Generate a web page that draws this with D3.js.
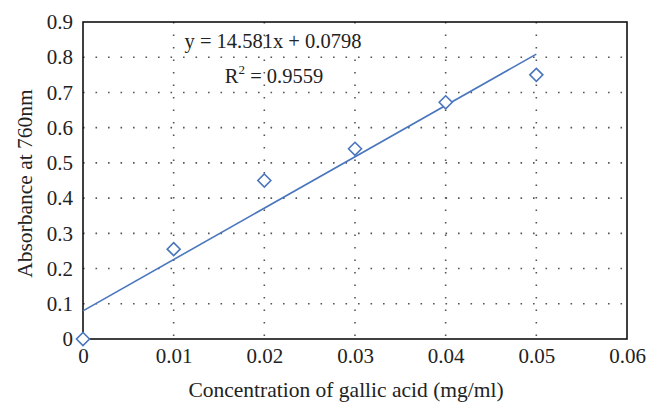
<!DOCTYPE html>
<html>
<head>
<meta charset="utf-8">
<script src="https://cdn.jsdelivr.net/npm/d3@7"></script>
<style>
  body { margin: 0; background: #fff; }
  text { font-family: "Liberation Serif", "Times New Roman", serif; fill: #222; }
</style>
</head>
<body>
<div id="chart"></div>
<script>
// measured points (concentration mg/ml vs absorbance)
var concentration = [0, 0.01, 0.02, 0.03, 0.04, 0.05];
var absorbance = [0, 0.255, 0.45, 0.54, 0.672, 0.75];
var xTicks = [0, 0.01, 0.02, 0.03, 0.04, 0.05, 0.06];
var yTicks = [0, 0.1, 0.2, 0.3, 0.4, 0.5, 0.6, 0.7, 0.8, 0.9];
var slope = 14.581, intercept = 0.0798, r2 = 0.9559;

var W = 658, H = 416;
var margins = {left: 83, right: 31, top: 22, bottom: 77};
var w = W - margins.left - margins.right,
  h = H - margins.top - margins.bottom;

var svg = d3.select('#chart').append('svg')
  .attr('width', W).attr('height', H)
  .append('g')
  .attr('transform', 'translate(' + margins.left + ',' + margins.top + ')');

var xScale = d3.scaleLinear().domain([0, 0.06]).range([0, w]);
var yScale = d3.scaleLinear().domain([0, 0.9]).range([h, 0]);

// dotted grid
svg.append('g').selectAll('line.hg')
  .data(yTicks.slice(1, -1))
  .enter().append('line')
  .attr('x1', 0).attr('x2', w)
  .attr('y1', function(d) {return yScale(d);})
  .attr('y2', function(d) {return yScale(d);})
  .attr('stroke', '#555').attr('stroke-width', 1.6)
  .attr('stroke-dasharray', '1.6,10.9');
svg.append('g').selectAll('line.vg')
  .data(xTicks.slice(1, -1))
  .enter().append('line')
  .attr('y1', 0).attr('y2', h)
  .attr('x1', function(d) {return xScale(d);})
  .attr('x2', function(d) {return xScale(d);})
  .attr('stroke', '#555').attr('stroke-width', 1.6)
  .attr('stroke-dasharray', '1.6,10.9');

// frame
svg.append('rect')
  .attr('x', 0).attr('y', 0).attr('width', w).attr('height', h)
  .attr('fill', 'none').attr('stroke', '#111').attr('stroke-width', 1.6);

// axes (labels only)
var xAxis = d3.axisBottom(xScale).tickValues(xTicks).tickSize(0).tickPadding(9)
  .tickFormat(function(d) {return d === 0 ? '0' : d3.format('.2f')(d);});
var yAxis = d3.axisLeft(yScale).tickValues(yTicks).tickSize(0).tickPadding(10)
  .tickFormat(function(d) {return d === 0 ? '0' : d3.format('.1f')(d);});

svg.append('g').attr('transform', 'translate(0,' + h + ')').call(xAxis)
  .call(function(g) {
    g.select('.domain').remove();
    g.selectAll('text').attr('font-size', 21).attr('font-family', 'Liberation Serif').attr('fill', '#222');
  });
svg.append('g').call(yAxis)
  .call(function(g) {
    g.select('.domain').remove();
    g.selectAll('text').attr('font-size', 21).attr('font-family', 'Liberation Serif').attr('fill', '#222');
  });

// trend line
var xs = [0, 0.05];
svg.append('path')
  .datum(xs)
  .attr('d', d3.line()
    .x(function(d) {return xScale(d);})
    .y(function(d) {return yScale(slope * d + intercept);}))
  .attr('fill', 'none').attr('stroke', '#4a76bd').attr('stroke-width', 1.6);

// diamond markers
var pts = concentration.map(function(c, i) {return {x: c, y: absorbance[i]};});
var r = 6.5;
svg.append('g').selectAll('path.pt')
  .data(pts)
  .enter().append('path')
  .attr('d', function(d) {
    var cx = xScale(d.x), cy = yScale(d.y);
    return 'M' + cx + ',' + (cy - r) + 'L' + (cx + r) + ',' + cy +
      'L' + cx + ',' + (cy + r) + 'L' + (cx - r) + ',' + cy + 'Z';
  })
  .attr('fill', '#fff').attr('stroke', '#4a76bd').attr('stroke-width', 1.6);

// equation
svg.append('text')
  .attr('x', 190).attr('y', 26)
  .attr('text-anchor', 'middle').attr('font-size', 20.5)
  .text('y = ' + slope + 'x + ' + intercept);
var r2t = svg.append('text')
  .attr('x', 191).attr('y', 61)
  .attr('text-anchor', 'middle').attr('font-size', 20.5);
r2t.append('tspan').text('R');
r2t.append('tspan').attr('dy', -9).attr('font-size', 13).text('2');
r2t.append('tspan').attr('dy', 9).text(' = ' + r2);

// axis titles
svg.append('text')
  .attr('x', w / 2 - 9).attr('y', h + 58)
  .attr('text-anchor', 'middle').attr('font-size', 21.5)
  .text('Concentration of gallic acid (mg/ml)');
svg.append('text')
  .attr('transform', 'translate(' + (-51) + ',' + (h / 2 + 3) + ') rotate(-90)')
  .attr('text-anchor', 'middle').attr('font-size', 21.5)
  .text('Absorbance at 760nm');
</script>
</body>
</html>
